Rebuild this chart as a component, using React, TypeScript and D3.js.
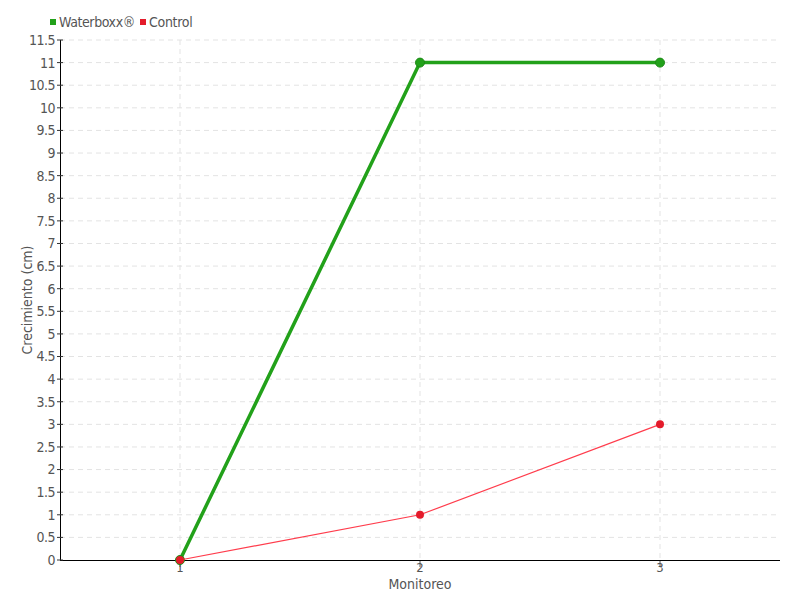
import React from "react";
import * as d3 from "d3";

const categories = [1, 2, 3];
const waterboxx = [0, 11, 11];
const control = [0, 1, 3];
const yTicks = d3.range(0, 11.51, 0.5);
const seriesNames = ["Waterboxx®", "Control"];

const W = 800, H = 600;
const FONT = "'DejaVu Sans Condensed', 'Liberation Sans Narrow', 'Roboto Condensed', sans-serif";

export default function App() {
  const x = d3.scaleLinear().domain([0.5, 3.5]).range([60, 780]);
  const y = d3.scaleLinear().domain([0, 11.5]).range([560, 40]);
  const line = d3.line<number>().x((_, i) => x(categories[i])).y((d) => y(d));
  const green = "#22a11a";
  const greenDark = "#1a8a14";
  const redLine = "#ff3c4c";
  const redDot = "#e41b2b";
  return (
    <svg width={W} height={H} style={{ position: "absolute", left: 0, top: 0, fontFamily: FONT }}>
      <rect width={W} height={H} fill="#fff" />
      {yTicks.slice(1).map((t) => (
        <line key={"gy" + t} x1={60} x2={780} y1={y(t)} y2={y(t)} stroke="#e3e3e3" strokeDasharray="5,4" />
      ))}
      {categories.map((c) => (
        <line key={"gx" + c} x1={x(c)} x2={x(c)} y1={40} y2={560} stroke="#e3e3e3" strokeDasharray="5,4" />
      ))}
      <line x1={60.5} x2={60.5} y1={40} y2={560} stroke="#000" />
      <line x1={60} x2={780} y1={560.5} y2={560.5} stroke="#000" />
      {yTicks.map((t) => (
        <g key={"ty" + t}>
          <line x1={57} x2={63} y1={y(t)} y2={y(t)} stroke="#333" />
          <text x={55} y={y(t)} dy="0.35em" textAnchor="end" fontSize={14} fill="#555" letterSpacing={-0.5}>
            {String(t)}
          </text>
        </g>
      ))}
      {categories.map((c) => (
        <g key={"tx" + c}>
          <line x1={x(c)} x2={x(c)} y1={561} y2={567} stroke="#555" />
          <text x={x(c)} y={572} textAnchor="middle" fontSize={13} fill="#555">{c}</text>
        </g>
      ))}
      <text x={420} y={589} textAnchor="middle" fontSize={14} fill="#555">Monitoreo</text>
      <text transform={`translate(32,300) rotate(-90)`} textAnchor="middle" fontSize={14} fill="#555">Crecimiento (cm)</text>

      <path d={line(waterboxx) || ""} fill="none" stroke={green} strokeWidth={3.5} />
      {waterboxx.map((v, i) => (
        <circle key={"wg" + i} cx={x(categories[i])} cy={y(v)} r={4.5} fill={green} stroke={greenDark} strokeWidth={1} />
      ))}
      <path d={line(control) || ""} fill="none" stroke={redLine} strokeWidth={1.2} />
      {control.map((v, i) => (
        <circle key={"cr" + i} cx={x(categories[i])} cy={y(v)} r={4} fill={redDot} />
      ))}

      <rect x={50} y={19} width={6} height={6} fill={green} />
      <text x={59} y={27} fontSize={14} fill="#555" letterSpacing={-0.4}>{seriesNames[0]}</text>
      <rect x={140} y={19} width={6} height={6} fill={redDot} />
      <text x={149} y={27} fontSize={14} fill="#555" letterSpacing={-0.3}>{seriesNames[1]}</text>
    </svg>
  );
}
